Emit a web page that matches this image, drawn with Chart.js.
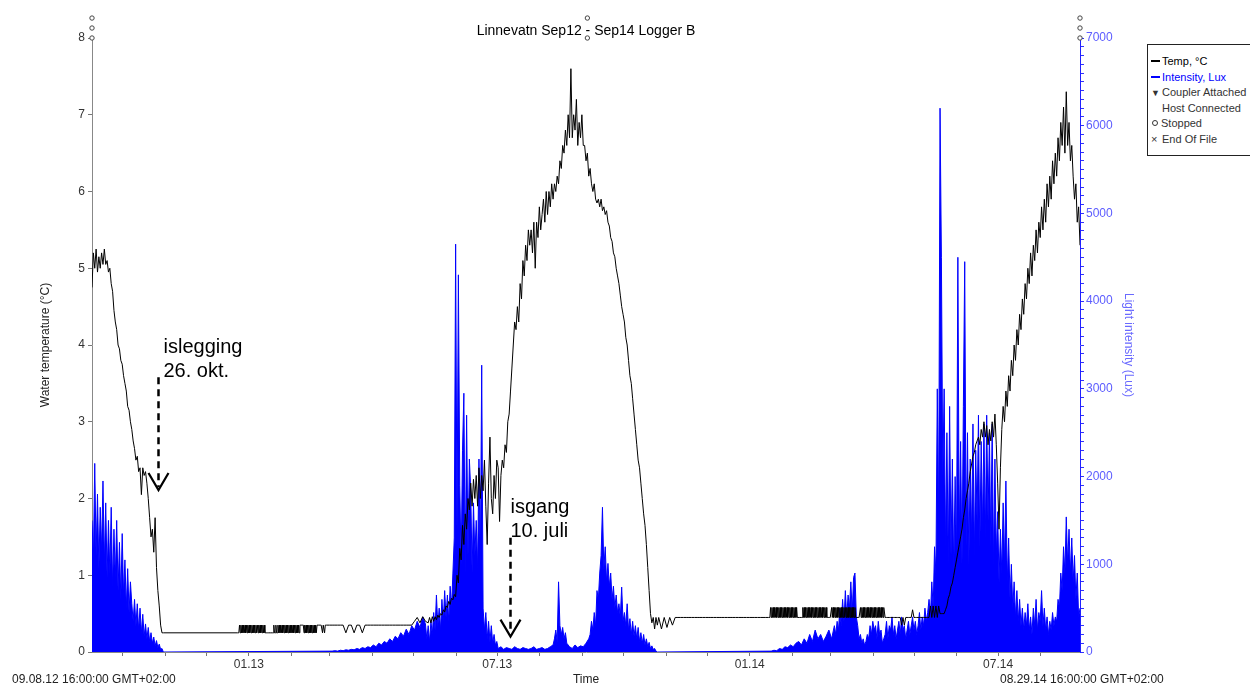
<!DOCTYPE html>
<html><head><meta charset="utf-8">
<script src="https://cdn.jsdelivr.net/npm/chart.js@4.4.1/dist/chart.umd.min.js"></script>
<style>
html,body{margin:0;padding:0;background:#fff;overflow:hidden;}
#wrap{position:relative;width:1250px;height:686px;overflow:hidden;}
#legend{position:absolute;left:1147px;top:44px;width:125px;height:112px;border:1px solid #222;background:#fff;font:11px "Liberation Sans",Arial,sans-serif;color:#333;box-sizing:border-box;}
.li{position:absolute;left:3px;white-space:nowrap;line-height:12px;height:12px;}
.ln{display:inline-block;width:9px;height:2px;vertical-align:middle;margin-right:2px;margin-top:-2px;}
.ic{display:inline-block;width:11px;text-align:left;font-size:9px;}
.ix{display:inline-block;width:11px;text-align:left;font-size:11px;}
.circ{display:inline-block;width:4px;height:4px;border:1px solid #333;border-radius:50%;margin-right:3px;margin-left:1px;vertical-align:middle;margin-top:-3px;}
</style></head><body>
<div id="wrap"><canvas id="c" width="1250" height="686"></canvas>
<div id="legend">
 <div class="li" style="top:10px;color:#000"><span class="ln" style="background:#000"></span>Temp, °C</div>
 <div class="li" style="top:26px;color:#0000ff"><span class="ln" style="background:#0000ff"></span>Intensity, Lux</div>
 <div class="li" style="top:41px"><span class="ic">▼</span>Coupler Attached</div>
 <div class="li" style="top:57px"><span class="ic"></span>Host Connected</div>
 <div class="li" style="top:72px"><span class="circ"></span>Stopped</div>
 <div class="li" style="top:88px"><span class="ix">×</span>End Of File</div>
</div></div>
<script>
// ---- axis / label texts ----
const chartTitle = 'Linnevatn Sep12 - Sep14 Logger B';
const startLabel = '09.08.12 16:00:00 GMT+02:00';
const endLabel = '08.29.14 16:00:00 GMT+02:00';
const totalDays = 720; // 09.08.12 16:00 -> 08.29.14 16:00
// month starts (days after start) and their tick labels
const monthDays = [22.33,53.33,83.33,114.33,145.33,173.33,204.33,234.33,265.33,295.33,326.33,357.33,387.33,418.33,448.33,479.33,510.33,538.33,569.33,599.33,630.33,660.33,691.33];
const monthLabels = ['','','','01.13','','','','','','07.13','','','','','','01.14','','','','','','07.14',''];
const tempTicks = [0,1,2,3,4,5,6,7,8];

// ---- temperature (°C), segments: start day, step (days), values ----
const tempStarts = [0, 52, 107, 173, 245, 413, 494, 578, 621];
const tempSteps  = [1, 54, 0.5, 2, 1, 2, 0.5, 1, 1];
const tempA = [4.75,5.2,5.0,5.25,4.95,5.15,5.0,5.2,5.05,5.25,5.05,5.1,4.95,5.0,4.8,4.7,4.45,4.3,4.2,4.0,3.95,3.8,3.75,3.6,3.5,3.4,3.2,3.15,3.0,2.9,2.75,2.65,2.5,2.55,2.35,2.4,2.05,2.4,2.3,2.35,2.2,2.0,1.75,1.5,1.6,1.3,1.75,1.1,0.8,0.6,0.35,0.25];
const tempB = [0.25,0.25];
const tempC = [0.25,0.35,0.25,
 0.35,0.25,0.35,0.25,0.35,0.25,0.35,0.25,0.35,0.25,0.35,0.25,0.35,0.25,0.35,0.25,0.35,0.25,0.35,0.25,
 0.35,0.25,0.35,0.25,0.35,0.25,0.35,0.25,0.35,0.25,0.35,0.25,0.35,0.25,0.35,0.25,
 0.25,0.25,0.25,0.25,0.25,0.25,0.25,0.25,0.25,0.25,0.25,0.25,
 0.35,0.25,0.25,0.35,0.25,0.25,0.35,0.25,
 0.35,0.25,0.35,0.25,0.35,0.25,0.35,0.25,0.35,0.25,0.35,0.25,0.35,0.25,0.35,0.25,
 0.35,0.25,0.35,0.25,0.35,0.25,0.35,0.25,0.35,0.25,0.35,0.25,0.35,0.25,
 0.35,0.35,0.35,0.35,0.35,0.35,
 0.25,0.35,0.25,0.35,0.25,0.35,0.25,0.35,0.25,0.35,0.25,0.35,0.25,0.35,0.25,0.35,0.25,0.35,0.25,0.35,
 0.35,0.35,0.35,0.35,0.35,0.35,
 0.35,0.25,0.35,0.35,0.25,0.35,0.35,0.35];
const tempD = [0.35,0.35,0.35,0.35,0.35,0.35,0.25,0.35,0.35,0.25,0.35,0.35,0.25,
 0.35,0.35,0.35,0.35,0.35,0.35,0.35,0.35,0.35,0.35,0.35,0.35,0.35,0.35,0.35,0.35,0.35,0.35,
 0.4,0.45,0.38,0.46,0.4];
const tempE = [0.38,0.45,0.38,0.46,0.4,0.46,0.42,0.48,0.45,0.5,
 0.48,0.55,0.52,0.6,0.58,0.66,0.62,0.7,0.68,0.75,
 0.72,1.0,0.9,1.35,1.2,1.65,1.4,1.8,1.6,2.0,
 1.85,2.2,1.9,2.25,2.0,2.3,1.9,2.4,2.0,2.3,
 2.1,2.5,1.9,1.4,2.2,2.8,2.0,1.8,2.3,2.0,
 2.5,2.4,1.7,2.3,2.5,2.4,2.7,2.6,3.0,3.1,
 3.4,3.7,4.0,4.3,4.2,4.5,4.3,4.8,4.6,5.1,
 4.9,5.3,5.1,5.5,5.3,5.5,5.2,5.6,5.0,5.6,
 5.4,5.8,5.5,5.7,5.9,5.6,6.0,5.7,6.0,5.8,
 6.1,5.9,6.1,6.0,6.2,6.1,6.4,6.3,6.6,6.5,
 6.8,6.6,7.0,6.7,7.6,6.7,7.0,6.8,7.2,6.6,
 6.9,6.7,7.0,6.6,6.6,6.4,6.5,6.2,6.3,6.1,
 6.0,6.1,5.9,5.85,5.9,5.8,5.9,5.75,5.8,5.7,
 5.75,5.6,5.55,5.4,5.35,5.2,5.15,5.0,4.9,4.8,
 4.65,4.5,4.4,4.3,4.1,4.0,3.8,3.6,3.5,3.3,
 3.1,2.9,2.7,2.5,2.4,2.2,2.0,1.8,1.65,1.4,
 1.1,0.8,0.5,0.38,0.45,0.3,0.45,0.35];
const tempF = [0.45,0.3,0.45,0.32,0.45,0.35,0.45,0.45,
 0.45,0.45,0.45,0.45,0.45,0.45,0.45,0.45,0.45,0.45,0.45,0.45,0.45,0.45,0.45,0.45,0.45,
 0.45,0.45,0.45,0.45,0.45,0.45,0.45,0.45,0.45,0.45,0.45,0.45,0.45,0.45,0.45,0.45];
const tempG = [0.45,0.58,0.45,0.58,0.45,0.58,0.45,0.58,0.45,0.58,0.45,0.58,0.45,0.58,0.45,0.58,0.45,0.58,0.45,0.58,
 0.45,0.58,0.45,0.58,0.45,0.58,0.45,0.58,0.45,0.58,0.45,0.58,0.45,0.58,0.45,0.58,0.45,0.58,0.45,0.58,0.45,
 0.45,0.45,0.45,0.45,0.45,0.45,0.45,
 0.58,0.45,0.58,0.45,0.58,0.45,0.58,0.45,0.58,0.45,0.58,0.45,0.58,0.45,0.58,0.45,0.58,0.45,
 0.58,0.45,0.58,0.45,0.58,0.45,0.58,0.45,0.58,0.45,0.58,0.45,0.58,0.45,0.58,0.45,0.58,0.45,
 0.45,0.45,0.45,0.45,0.45,0.45,
 0.58,0.45,0.58,0.45,0.58,0.45,0.58,0.45,0.58,0.45,0.58,0.45,0.58,0.45,0.58,0.45,0.58,0.45,
 0.58,0.45,0.58,0.45,0.58,0.45,0.58,0.45,0.58,0.45,0.58,0.45,0.58,0.45,0.58,0.45,0.58,0.45,
 0.45,0.45,0.45,0.45,0.45,0.45,
 0.58,0.45,0.58,0.45,0.58,0.45,0.58,0.45,0.58,0.45,0.58,0.45,0.58,0.45,0.58,0.45,0.58,0.45,
 0.58,0.45,0.58,0.45,0.58,0.45,0.58,0.45,0.58,0.45,0.58,0.45,0.58,0.45,0.58,0.45,0.58];
const tempH = [0.45,0.45,0.45,0.45,0.45,0.45,0.45,0.45,0.45,0.45,0.45,0.45,
 0.35,0.45,0.35,
 0.45,0.45,0.45,0.45,0.45,
 0.55,0.45,
 0.45,0.45,0.45,0.45,0.45,0.45,0.45,0.45,0.45,0.45,0.45,
 0.6,0.45,0.6,0.45,0.6,0.45,0.6,
 0.5,0.5,0.5];
const tempI = [0.5,0.55,0.6,0.7,0.75,0.85,0.9,1.0,1.1,1.2,
 1.3,1.4,1.5,1.6,1.75,1.85,2.0,2.1,2.2,2.35,
 2.45,2.55,2.6,2.7,2.75,2.8,2.7,2.9,2.8,3.0,
 2.8,2.95,2.7,2.9,2.75,3.0,2.8,3.1,2.7,2.2,
 1.6,2.4,2.9,3.2,3.0,3.4,3.2,3.6,3.4,3.8,
 3.6,4.0,3.8,4.2,4.0,4.4,4.2,4.6,4.4,4.8,
 4.6,5.0,4.8,5.2,4.9,5.3,5.1,5.5,5.2,5.6,
 5.4,5.8,5.5,5.9,5.6,6.1,5.8,6.2,5.9,6.4,
 6.1,6.5,6.2,6.7,6.4,6.9,6.6,7.1,6.5,7.3,
 6.6,6.9,6.4,6.6,6.2,5.9,6.1,5.6,5.8,5.3];
const tempSegs = [tempA,tempB,tempC,tempD,tempE,tempF,tempG,tempH,tempI];

// ---- light intensity (Lux), segments ----
const luxStarts = [0, 175, 244, 264, 296, 337, 348, 363, 495, 542, 578];
const luxSteps  = [1, 2, 1, 1, 2, 1, 2, 1, 2, 1, 1];
const luxA = [1500,1050,2150,1100,1800,950,1650,1150,1950,1000,1700,850,1500,900,1650,750,1400,850,1500,700,1250,600,1350,650,1050,500,950,450,800,550,350,600,300,550,250,500,220,430,180,320,150,280,120,220,100,170,70,130,50,90,30,40,0];
const luxB = [10,15,10,20,15,25,20,30,25,40,30,50,40,60,50,80,60,100,80,120,100,150,120,180,150,220,180,260,200,300,250,350,280,400,320];
const luxC = [150,300,120,350,200,450,250,650,300,500,250,600,350,700,400,650,350,750,500,900];
const luxD = [1300,4650,1400,4300,1900,1000,2300,2950,900,2700,1100,2200,1850,900,1700,1100,1500,950,2200,1000,3270,500,250,450,150,350,120,300,100,200,80,120];
const luxE = [40,60,30,50,40,30,60,40,30,50,40,30,40,60,30,40,50,30,40,60,80];
const luxF = [150,250,120,800,300,200,280,150,220,100];
const luxG = [60,40,80,50,70,60,100,150];
const luxH = [200,350,250,450,300,700,600,900,1100,1650,950,1200,800,1010,750,900,600,750,500,650,450,550,400,740,350,450,300,550,250,380,200,350,180,300,150,280,120,220,100,200,80,150,60,110,40,70,30,40,10,0];
const luxI = [10,20,15,40,30,60,50,80,60,100,120,80,150,100,200,120,250,150,200,120,180,250,150,300];
const luxJ = [200,350,250,500,300,600,350,700,400,650,500,800,450,850,900,400,300,150,200,100,150,80,120,200,150,300,200,350,250,300,150,350,200,250,100,150];
const luxK = [200,350,150,300,250,400,200,300,150,250,
 350,200,400,250,300,150,250,350,200,300,
 400,250,350,200,300,450,250,400,300,500,
 350,450,600,400,800,500,1200,900,3000,1500,
 6200,4500,2000,3000,1200,2500,1000,2800,1100,2200,
 900,2000,1100,4500,1300,2400,1000,2800,4450,1200,
 2500,1000,2200,1300,2600,1100,2300,1500,2700,1200,
 2400,1400,2600,1300,2700,1500,2500,1200,2600,1000,
 2200,1100,1600,800,1400,900,1700,1000,1950,800,
 1300,600,1000,500,800,400,700,350,600,300,
 500,250,450,300,550,250,400,200,500,300,
 600,250,450,350,700,300,500,250,400,200,
 350,250,450,300,400,350,600,500,900,700,
 1200,900,1540,1000,1400,900,1300,800,1100,600,
 900,400,500];
const luxSegs = [luxA,luxB,luxC,luxD,luxE,luxF,luxG,luxH,luxI,luxJ,luxK];

// ---- "Stopped" markers (day, °C) ----
const stopDays = [0,0,0,361,361,720,720,720];
const stopTemps = [8.0,8.13,8.26,8.0,8.26,8.0,8.13,8.26];

// ---- annotations ----
const noteTexts = [['islegging','26. okt.'],['isgang','10. juli']];
const noteDays = [48, 304.5];
const noteTipTemps = [2.11, 0.2];
const noteTopTemps = [3.58, 1.49];
const noteDx = [5, 0];

function buildPoints(starts, steps, segs){
  const pts = [];
  segs.forEach((vals, s) => vals.forEach((v, i) => pts.push({x: starts[s] + i*steps[s], y: v})));
  return pts;
}
const tempPoints = buildPoints(tempStarts, tempSteps, tempSegs);
const luxPoints = buildPoints(luxStarts, luxSteps, luxSegs);

const FONT = '"Liberation Sans", Arial, sans-serif';

const overlay = {
  id: 'overlay',
  afterDatasetsDraw(chart){
    const {ctx, chartArea: a, scales} = chart;
    const x = scales.x, y = scales.y;
    ctx.save();
    // title
    ctx.fillStyle = '#000';
    ctx.font = '14px ' + FONT;
    ctx.textAlign = 'center'; ctx.textBaseline = 'middle';
    ctx.fillText(chartTitle, (a.left + a.right)/2, 31);
    // stopped markers
    ctx.strokeStyle = '#444'; ctx.fillStyle = '#fff'; ctx.lineWidth = 1;
    stopDays.forEach((d, i) => {
      ctx.beginPath();
      ctx.arc(x.getPixelForValue(d), y.getPixelForValue(stopTemps[i]), 2.2, 0, Math.PI*2);
      ctx.fill(); ctx.stroke();
    });
    // bottom labels
    ctx.font = '12px ' + FONT;
    ctx.fillStyle = '#222';
    ctx.fillText('Time', (a.left + a.right)/2, 680);
    ctx.textAlign = 'left';
    ctx.fillText(startLabel, 12, 680);
    ctx.fillText(endLabel, 1000, 680);
    // axis titles
    ctx.save();
    ctx.translate(46, (a.top + a.bottom)/2);
    ctx.rotate(-Math.PI/2);
    ctx.textAlign = 'center';
    ctx.fillStyle = '#222';
    ctx.fillText('Water temperature (°C)', 0, 0);
    ctx.restore();
    ctx.save();
    ctx.translate(1128, (a.top + a.bottom)/2);
    ctx.rotate(Math.PI/2);
    ctx.textAlign = 'center';
    ctx.fillStyle = '#6a6aff';
    ctx.fillText('Light intensity (Lux)', 0, 0);
    ctx.restore();
    // annotations
    noteTexts.forEach((lines, i) => {
      const px = Math.round(x.getPixelForValue(noteDays[i])) + 0.5;
      const tip = y.getPixelForValue(noteTipTemps[i]);
      const top = y.getPixelForValue(noteTopTemps[i]);
      ctx.strokeStyle = '#000';
      ctx.lineWidth = 2.5;
      ctx.setLineDash([7,5]);
      ctx.beginPath(); ctx.moveTo(px, top); ctx.lineTo(px, tip - 3); ctx.stroke();
      ctx.setLineDash([]);
      ctx.lineWidth = 2.2;
      ctx.beginPath(); ctx.moveTo(px - 10, tip - 17); ctx.lineTo(px, tip); ctx.lineTo(px + 10, tip - 17); ctx.stroke();
      ctx.fillStyle = '#000';
      ctx.font = '20px ' + FONT;
      ctx.textAlign = 'left'; ctx.textBaseline = 'middle';
      ctx.fillText(lines[0], px + noteDx[i], top - 30);
      ctx.fillText(lines[1], px + noteDx[i], top - 6);
    });
    ctx.restore();
  }
};

new Chart(document.getElementById('c'), {
  type: 'line',
  data: {
    datasets: [
      {label:'Temp, °C', data: tempPoints, borderColor:'#000', borderWidth:1, pointRadius:0,
       yAxisID:'y', fill:false, tension:0, order:1},
      {label:'Intensity, Lux', data: luxPoints, borderColor:'#0000ff', backgroundColor:'#0000ff', borderWidth:1,
       pointRadius:0, yAxisID:'y2', fill:'origin', tension:0, order:2}
    ]
  },
  options: {
    responsive:false, animation:false, devicePixelRatio:1,
    layout:{padding:{top:38,left:0,right:0,bottom:0}},
    plugins:{legend:{display:false}, tooltip:{enabled:false}, title:{display:false}},
    scales:{
      x:{type:'linear', min:0, max:totalDays,
        afterBuildTicks(s){ s.ticks = monthDays.map(v=>({value:v})); },
        afterFit(s){ s.height = 34; },
        ticks:{autoSkip:false, maxRotation:0, minRotation:0, padding:1, color:'#333',
          font:{family:FONT, size:12}, callback:(v,i)=>monthLabels[i]},
        grid:{drawOnChartArea:false, drawTicks:true, tickLength:4, tickColor:'#777'},
        border:{color:'#888', width:1}},
      y:{type:'linear', position:'left', min:0, max:8,
        afterBuildTicks(s){ s.ticks = tempTicks.map(v=>({value:v})); },
        afterFit(s){ s.width = 92; },
        ticks:{autoSkip:false, padding:3, color:'#333', font:{family:FONT, size:12}},
        grid:{drawOnChartArea:false, drawTicks:true, tickLength:4, tickColor:'#777'},
        border:{color:'#888', width:1}},
      y2:{type:'linear', position:'right', min:0, max:7000,
        afterBuildTicks(s){ const t=[]; for(let v=0; v<=7000; v+=100) t.push({value:v}); s.ticks=t; },
        afterFit(s){ s.width = 170; },
        ticks:{autoSkip:false, padding:2, color:'#5c5cff', font:{family:FONT, size:12},
          callback:(v)=> (v % 1000 === 0 ? String(v) : '')},
        grid:{drawOnChartArea:false, drawTicks:true, tickLength:4, tickColor:'#3030ff'},
        border:{color:'#2020ff', width:1}}
    }
  },
  plugins:[overlay]
});
</script>
</body></html>
